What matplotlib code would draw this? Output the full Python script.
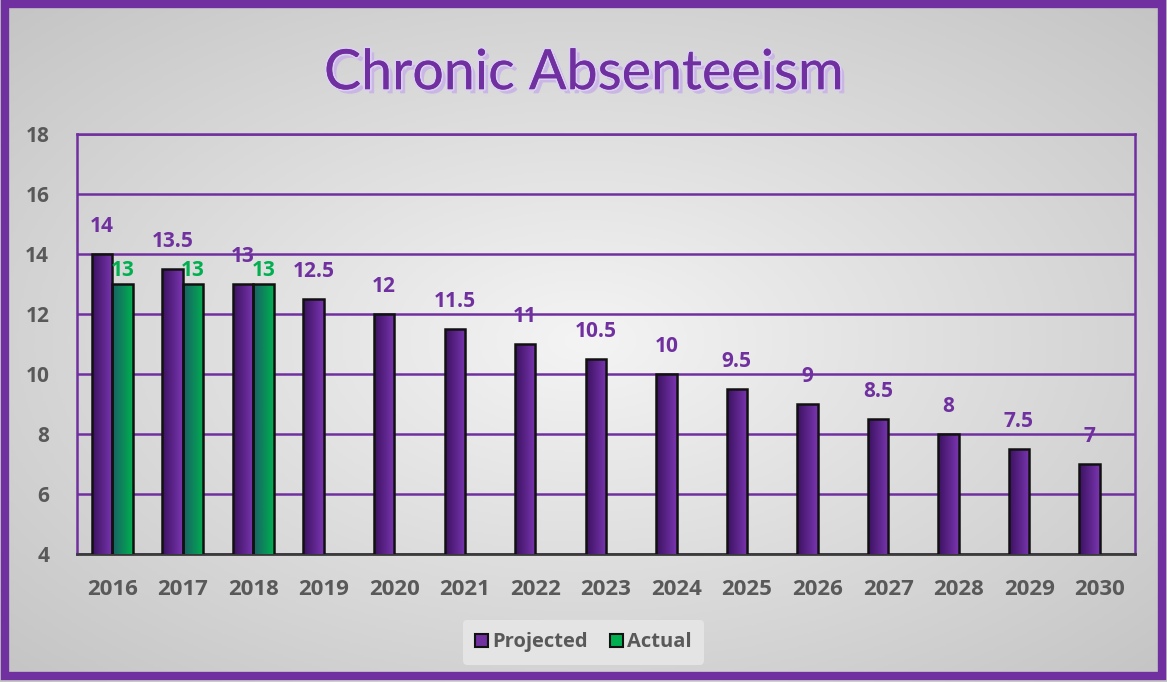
import numpy as np
import matplotlib
matplotlib.use("Agg")
import matplotlib.pyplot as plt
from matplotlib import patheffects
from matplotlib.colors import LinearSegmentedColormap
from matplotlib.patches import Rectangle

years = ["2016", "2017", "2018", "2019", "2020", "2021", "2022", "2023",
         "2024", "2025", "2026", "2027", "2028", "2029", "2030"]
projected = [14, 13.5, 13, 12.5, 12, 11.5, 11, 10.5, 10, 9.5, 9, 8.5, 8, 7.5, 7]
actual = [13, 13, 13, None, None, None, None, None, None, None, None, None, None, None, None]
projected_labels = ["14", "13.5", "13", "12.5", "12", "11.5", "11", "10.5",
                    "10", "9.5", "9", "8.5", "8", "7.5", "7"]
actual_labels = ["13", "13", "13"]

PURPLE = "#7030A0"
GREEN = "#00B050"
GREY = "#595959"
YMIN, YMAX = 4, 18

plt.rcParams["font.family"] = ["Open Sans", "DejaVu Sans"]

fig = plt.figure(figsize=(11.67, 6.82), dpi=100)

# background gradient
bg = fig.add_axes([0, 0, 1, 1], zorder=-2)
yy, xx = np.mgrid[-1:1:300j, -1:1:500j]
r = np.sqrt(xx ** 2 + yy ** 2) / np.sqrt(2)
bg.imshow(r, cmap=LinearSegmentedColormap.from_list("bg", ["#F4F4F4", "#C4C4C4"]),
          extent=[0, 1, 0, 1], aspect="auto", vmin=0, vmax=1)
bg.set_axis_off()
fig.patches.append(Rectangle((0.0045, 0.0085), 0.991, 0.985, transform=fig.transFigure,
                             fill=False, edgecolor=PURPLE, linewidth=6, zorder=5))

ax = fig.add_axes([0.066, 0.1877, 0.9066, 0.6158])
ax.patch.set_alpha(0)
x = np.arange(len(years))
w = 0.29

purple_cmap = LinearSegmentedColormap.from_list("p", ["#3B1260", "#7A35B0"])
green_cmap = LinearSegmentedColormap.from_list("g", ["#1A5E66", "#00B050"])
grad = np.linspace(0, 1, 50).reshape(1, -1)


def gradient_bars(bars, cmap):
    for b in bars:
        if np.isnan(b.get_height()):
            continue
        x0 = b.get_x()
        top = b.get_y() + b.get_height()
        ax.imshow(grad, cmap=cmap, aspect="auto", zorder=3,
                  extent=[x0, x0 + b.get_width(), YMIN, top])


act = [np.nan if v is None else v for v in actual]
pbars = ax.bar(x - w / 2, projected, w, facecolor="none", edgecolor="#111111",
               linewidth=1.8, zorder=4)
abars = ax.bar(x + w / 2, act, w, facecolor="none", edgecolor="#111111", linewidth=1.8, zorder=4)
gradient_bars(pbars, purple_cmap)
gradient_bars(abars, green_cmap)
ax.set_xlim(-0.5, len(years) - 0.5)
ax.set_ylim(YMIN, YMAX)

for xi, v, lab in zip(x, projected, projected_labels):
    ax.annotate(lab, (xi - w / 2, v), xytext=(0, 12), textcoords="offset points",
                ha="center", va="bottom", color=PURPLE, fontsize=15, fontweight="bold", zorder=6)
for xi, v, lab in zip(x, actual, actual_labels):
    ax.annotate(lab, (xi + w / 2, v), xytext=(0, 2), textcoords="offset points",
                ha="center", va="bottom", color=GREEN, fontsize=15, fontweight="bold", zorder=6)

ax.set_yticks(range(YMIN, YMAX + 1, 2))
ax.yaxis.grid(True, color=PURPLE, linewidth=1.8, zorder=1)
ax.set_axisbelow(True)
for s in ["left", "right", "top"]:
    ax.spines[s].set_color(PURPLE)
    ax.spines[s].set_linewidth(1.8)
ax.spines["bottom"].set_color("#3A3A3A")
ax.spines["bottom"].set_linewidth(2)
ax.set_xticks(x)
ax.set_xticklabels(years)
ax.tick_params(length=0, labelsize=16, labelcolor=GREY, pad=18)
ax.tick_params(axis="y", pad=20, labelsize=15)
for t in ax.get_xticklabels() + ax.get_yticklabels():
    t.set_fontweight("bold")

handles = [Rectangle((0, 0), 1, 1, facecolor=PURPLE, edgecolor="#111111", linewidth=1.5),
           Rectangle((0, 0), 1, 1, facecolor=GREEN, edgecolor="#111111", linewidth=1.5)]
leg = fig.legend(handles, ["Projected", "Actual"], loc="center", bbox_to_anchor=(0.5, 0.058),
                 ncol=2, frameon=True, fontsize=14.5, handlelength=0.65, handleheight=0.65,
                 handletextpad=0.2, columnspacing=1.1, borderpad=0.6)
leg.get_frame().set_facecolor("#E4E4E4")
leg.get_frame().set_edgecolor("none")
leg.get_frame().set_alpha(1)
for t in leg.get_texts():
    t.set_color(GREY)
    t.set_fontweight("bold")

fig.text(0.5, 0.892, "Chronic Absenteeism", ha="center", va="center", fontsize=40,
         color=PURPLE, family=["Lato", "DejaVu Sans"],
         path_effects=[patheffects.withSimplePatchShadow(offset=(3, -3), shadow_rgbFace="#C9B6E4", alpha=1),
                       patheffects.withStroke(linewidth=2.5, foreground="#DCD0F2"),
                       patheffects.Normal()])

fig.savefig("out.png", dpi=100)
